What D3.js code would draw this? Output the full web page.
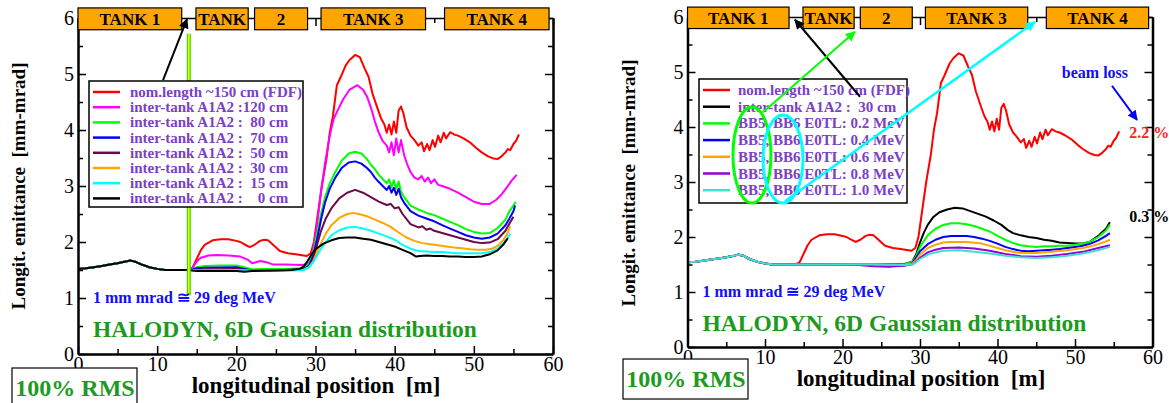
<!DOCTYPE html>
<html><head><meta charset="utf-8">
<script src="https://cdn.jsdelivr.net/npm/d3@7"></script>
<style>
body{margin:0;background:#fff}
svg{display:block}
</style>
</head><body><svg id="c" width="1169" height="403"></svg>
<script>
// ---------- data ----------
const xTicks = [0,10,20,30,40,50,60];
const yTicks = [0,1,2,3,4,5,6];
const tankLabels = ["TANK 1","TANK","2","TANK 3","TANK 4"];
const tankStart = [0,14.9,22.3,30.7,46.3];
const tankEnd = [13.1,21.5,29.0,43.9,59.5];

const leftCommon = [[0,1.52],[1,1.53],[2,1.55],[3,1.57],[4,1.6],[5,1.62],[6,1.65],[6.6,1.67],[7.2,1.65],[8,1.6],[9,1.55],[10,1.52],[11,1.5],[12,1.5],[13,1.5],[14,1.5]];
const rightCommon = [[0,1.54],[1,1.55],[2,1.57],[3,1.59],[4,1.61],[5,1.63],[6,1.66],[6.5,1.68],[7.2,1.66],[8,1.6],[9,1.55],[10,1.52],[11,1.5],[12,1.5],[13,1.5],[14,1.5]];

const redFDF = [[14.5,1.55],[15,1.7],[15.5,1.85],[16,1.95],[17,2.03],[18,2.05],[19,2.05],[20,2.02],[20.5,2.0],[21,1.96],[21.7,1.91],[22.3,1.95],[23,2.02],[23.5,2.04],[24,2.03],[24.5,1.97],[25.5,1.84],[26.5,1.8],[27.5,1.78],[28.9,1.75],[29.4,1.8],[29.8,2.0],[30.3,2.5],[30.8,3.0],[31.4,3.5],[31.8,3.95],[32.2,4.25],[32.7,4.8],[33.2,4.95],[33.8,5.15],[34.3,5.25],[35.0,5.34],[35.6,5.3],[36.2,5.1],[36.7,4.95],[37.2,4.65],[37.8,4.4],[38.3,4.2],[38.7,4.1],[39.0,3.95],[39.3,4.1],[39.6,3.92],[39.9,4.15],[40.2,3.95],[40.5,4.35],[40.8,4.42],[41.1,4.3],[41.5,4.05],[42,3.9],[42.5,3.82],[43,3.72],[43.4,3.78],[43.7,3.62],[44.1,3.75],[44.4,3.64],[44.8,3.82],[45.1,3.7],[45.5,3.9],[45.8,3.78],[46.2,3.95],[46.5,3.85],[47,3.96],[47.5,3.92],[48,3.9],[48.7,3.85],[49.5,3.78],[50.3,3.68],[51,3.6],[51.8,3.53],[52.5,3.49],[53,3.48],[53.5,3.53],[54,3.6],[54.3,3.66],[54.6,3.64],[55,3.75],[55.3,3.8],[55.7,3.92]];

const it120 = [[14.5,1.55],[15,1.65],[15.5,1.72],[16.5,1.76],[17.5,1.77],[19,1.76],[20.5,1.74],[21.5,1.68],[22,1.62],[23,1.66],[23.8,1.64],[24.6,1.6],[26,1.6],[28.4,1.59],[29.2,1.62],[29.7,1.85],[30.2,2.3],[30.7,2.9],[31.2,3.4],[31.8,3.9],[32.3,4.2],[32.8,4.35],[33.5,4.55],[34.3,4.72],[35.3,4.8],[36,4.72],[36.5,4.6],[37,4.4],[37.5,4.15],[38,3.95],[38.5,3.8],[39,3.72],[39.3,3.6],[39.6,3.78],[39.9,3.55],[40.2,3.85],[40.5,3.6],[40.8,3.82],[41.2,3.55],[41.6,3.38],[42,3.25],[42.5,3.15],[43,3.12],[43.4,3.18],[43.8,3.08],[44.2,3.15],[44.6,3.05],[45,3.12],[45.5,3.02],[46,3.0],[47,2.95],[48,2.88],[49,2.8],[50,2.72],[51,2.68],[52,2.68],[52.8,2.75],[53.5,2.85],[54.2,2.98],[54.8,3.1],[55.4,3.2]];

const it80 = [[14.5,1.52],[15,1.55],[16,1.57],[18,1.58],[20,1.58],[21,1.55],[22,1.51],[24,1.52],[26,1.52],[28.5,1.53],[29.2,1.6],[29.7,1.8],[30.2,2.15],[30.7,2.5],[31.2,2.8],[31.8,3.05],[32.5,3.25],[33.3,3.45],[34.2,3.58],[35,3.61],[35.8,3.58],[36.5,3.48],[37,3.38],[37.5,3.3],[38,3.2],[38.5,3.12],[39,3.05],[39.3,3.12],[39.6,2.98],[39.9,3.1],[40.2,2.95],[40.5,3.08],[40.8,2.9],[41.2,2.8],[42,2.65],[43,2.58],[43.5,2.55],[44,2.52],[44.5,2.5],[45,2.48],[46,2.42],[47,2.36],[48,2.3],[49,2.23],[50,2.18],[51,2.15],[52,2.16],[53,2.25],[54,2.4],[54.5,2.55],[55,2.65],[55.3,2.72]];

const it70 = [[14.5,1.51],[15,1.53],[16,1.54],[20,1.55],[21,1.52],[22,1.49],[26,1.5],[28.5,1.51],[29.2,1.58],[29.7,1.75],[30.2,2.05],[30.7,2.4],[31.2,2.7],[31.8,2.95],[32.5,3.15],[33.3,3.32],[34.2,3.42],[35,3.44],[35.8,3.4],[36.5,3.32],[37,3.25],[37.5,3.15],[38,3.07],[38.5,3.0],[39,2.93],[39.3,3.0],[39.6,2.88],[39.9,2.97],[40.2,2.84],[40.5,2.95],[40.8,2.8],[41.2,2.7],[42,2.55],[43,2.47],[44,2.42],[45,2.37],[46,2.3],[47,2.24],[48,2.18],[49,2.12],[50,2.08],[51,2.06],[52,2.08],[53,2.15],[54,2.3],[54.5,2.42],[55,2.55],[55.2,2.65]];

const it50 = [[14.5,1.5],[16,1.51],[20,1.52],[22,1.49],[26,1.5],[28.5,1.51],[29.2,1.56],[29.7,1.7],[30.2,1.95],[30.7,2.2],[31.3,2.42],[32,2.6],[33,2.78],[34,2.88],[35,2.93],[36,2.88],[37,2.8],[38,2.72],[39,2.66],[39.5,2.68],[40,2.6],[40.5,2.62],[41,2.5],[42,2.32],[43,2.26],[43.5,2.28],[44,2.22],[44.5,2.24],[45,2.2],[46,2.16],[47,2.12],[48,2.08],[49,2.04],[50,2.0],[51,1.98],[52,1.99],[53,2.05],[54,2.2],[54.5,2.33],[55,2.45]];

const it30 = [[14.5,1.49],[16,1.49],[20,1.5],[22,1.49],[26,1.49],[28.5,1.5],[29.2,1.55],[29.7,1.65],[30.2,1.82],[30.7,1.98],[31.3,2.15],[32,2.3],[33,2.43],[34,2.5],[34.8,2.52],[35.5,2.5],[36.5,2.46],[37.5,2.4],[38.5,2.34],[39.5,2.27],[40.5,2.17],[41.5,2.08],[42.5,2.02],[43.5,1.98],[44.5,1.96],[45.5,1.94],[46.5,1.92],[47.5,1.9],[48.5,1.89],[49.5,1.87],[50.5,1.86],[51.5,1.86],[52.3,1.88],[53,1.93],[53.7,2.03],[54.2,2.14],[54.6,2.28]];

const it15 = [[14.5,1.49],[16,1.49],[20,1.49],[22,1.48],[26,1.49],[28.5,1.5],[29.2,1.55],[29.7,1.64],[30.2,1.76],[30.7,1.88],[31.3,2.0],[32,2.12],[33,2.21],[34,2.26],[35,2.27],[36,2.24],[37,2.2],[38,2.15],[39,2.1],[40,2.04],[41,1.95],[42,1.88],[43,1.84],[44,1.83],[45,1.82],[46,1.82],[47,1.81],[48,1.8],[49,1.8],[50,1.8],[51,1.8],[52,1.82],[53,1.88],[53.7,1.98],[54.2,2.06],[54.6,2.15]];

const it0 = [[15,1.48],[16,1.48],[20,1.48],[21,1.47],[22,1.48],[25,1.49],[27,1.5],[28,1.52],[28.5,1.56],[29,1.66],[29.5,1.78],[30,1.87],[31,1.97],[32,2.03],[33,2.07],[34,2.08],[35,2.08],[36,2.06],[37,2.04],[38,2.0],[39,1.96],[40,1.92],[41,1.86],[42,1.8],[42.7,1.74],[43.2,1.75],[44,1.76],[45,1.75],[46,1.75],[47,1.74],[48,1.74],[49,1.73],[50,1.73],[51,1.74],[52,1.78],[53,1.85],[53.7,1.95],[54.3,2.07]];

const r30 = [[16,1.5],[20,1.5],[24,1.5],[28,1.51],[29,1.55],[29.5,1.68],[30,1.9],[30.5,2.08],[31,2.22],[31.7,2.36],[32.5,2.45],[33.5,2.5],[34.5,2.53],[35.5,2.52],[36.5,2.47],[37.5,2.42],[38.5,2.37],[39.5,2.3],[40.5,2.22],[41.3,2.13],[42,2.07],[43,2.03],[44,2.0],[45,1.98],[46,1.95],[47,1.93],[48,1.9],[49,1.89],[50,1.88],[51,1.88],[52,1.92],[53,2.02],[53.6,2.1],[54,2.15],[54.5,2.27]];
const e02 = [[16,1.5],[24,1.5],[28,1.5],[29,1.55],[29.5,1.65],[30,1.82],[31,2.03],[32,2.15],[33,2.22],[34,2.25],[35,2.25],[36,2.23],[37,2.2],[38,2.15],[39,2.1],[40,2.02],[41,1.95],[42,1.89],[43,1.85],[44,1.83],[45,1.82],[46,1.83],[47,1.83],[48,1.84],[49,1.84],[50,1.86],[51,1.88],[52,1.92],[53,2.0],[54,2.12],[54.5,2.22]];
const e04 = [[16,1.5],[24,1.49],[26,1.47],[28,1.48],[29,1.53],[29.5,1.62],[30,1.74],[31,1.87],[32,1.95],[33,2.0],[34,2.02],[36,2.02],[37,2.0],[38,1.97],[39,1.93],[40,1.88],[41,1.82],[42,1.78],[43,1.75],[44,1.74],[45,1.75],[46,1.76],[47,1.77],[48,1.78],[49,1.8],[50,1.82],[51,1.84],[52,1.88],[53,1.94],[54,2.02],[54.5,2.07]];
const e06 = [[16,1.5],[24,1.49],[28,1.49],[29,1.52],[29.5,1.58],[30,1.68],[31,1.8],[32,1.86],[33,1.9],[34,1.91],[36,1.91],[38,1.88],[40,1.8],[41,1.76],[42,1.73],[43,1.71],[45,1.71],[47,1.73],[49,1.76],[51,1.8],[52,1.83],[53,1.87],[54,1.92],[54.5,1.95]];
const e08 = [[16,1.5],[22,1.49],[24,1.47],[26,1.46],[28,1.48],[29,1.5],[29.5,1.55],[30,1.62],[31,1.72],[32,1.77],[33,1.8],[35,1.81],[37,1.79],[39,1.75],[41,1.69],[43,1.65],[45,1.64],[47,1.66],[49,1.69],[51,1.73],[53,1.8],[54.5,1.85]];
const e10 = [[16,1.5],[24,1.5],[28,1.49],[29,1.5],[29.5,1.54],[30,1.6],[31,1.68],[32,1.72],[33,1.75],[35,1.76],[37,1.73],[39,1.7],[41,1.66],[43,1.63],[45,1.62],[47,1.63],[49,1.66],[51,1.7],[53,1.76],[54.5,1.82]];

const leftNames = ["nom.length ~150 cm (FDF)","inter-tank A1A2 :120 cm","inter-tank A1A2 :  80 cm","inter-tank A1A2 :  70 cm","inter-tank A1A2 :  50 cm","inter-tank A1A2 :  30 cm","inter-tank A1A2 :  15 cm","inter-tank A1A2 :    0 cm"];
const leftColors = ["#ff0000","#ff00ff","#00ff00","#0000ff","#6a0a4a","#ffa500","#00ffff","#000000"];
const leftSeries = [redFDF,it120,it80,it70,it50,it30,it15,it0];

const rightNames = ["nom.length ~150 cm (FDF)","inter-tank A1A2 :  30 cm","BB5, BB6 E0TL: 0.2 MeV","BB5, BB6 E0TL: 0.4 MeV","BB5, BB6 E0TL: 0.6 MeV","BB5, BB6 E0TL: 0.8 MeV","BB5, BB6 E0TL: 1.0 MeV"];
const rightColors = ["#ff0000","#000000","#00ff00","#0000ff","#ffa500","#9400d3","#40e0d0"];
const rightSeries = [redFDF,r30,e02,e04,e06,e08,e10];

// ---------- drawing ----------
const svg = d3.select("#c");
const defs = svg.append("defs");
function marker(id,color){
  defs.append("marker").attr("id",id).attr("viewBox","0 0 10 10").attr("refX",9).attr("refY",5)
    .attr("markerWidth",12).attr("markerHeight",10).attr("markerUnits","userSpaceOnUse").attr("orient","auto")
    .append("path").attr("d","M0,0 L10,5 L0,10 z").attr("fill",color);
}
marker("mk","#000"); marker("mg","#00ff00"); marker("mc","#00ffff"); marker("mb","#0000ff");

const purple = "#7b3fc8", dgreen = "#1e9a1e";

function panel(o){
  const g = svg.append("g");
  const x = d3.scaleLinear().domain([0,60]).range(o.xr);
  const y = d3.scaleLinear().domain([0,6]).range(o.yr);
  const line = d3.line().x(d=>x(d[0])).y(d=>y(d[1]));

  o.series.forEach((s,i)=>{
    g.append("path").datum(o.common.concat(s)).attr("d",line)
      .attr("fill","none").attr("stroke",o.colors[i]).attr("stroke-width",2).attr("stroke-linejoin","round");
  });

  function style(sel,w){
    sel.select(".domain").attr("stroke","#000").attr("stroke-width",w);
    sel.selectAll(".tick line").attr("stroke","#000").attr("stroke-width",1.5);
    sel.selectAll("text").attr("font-size",20).attr("fill","#000");
  }
  const fmt = d3.format("d");
  const minorX = d3.range(5,60,10), minorY = d3.range(0.5,6,1);
  const H = o.yr[0], T = o.yr[1], L = o.xr[0], R = o.xr[1];
  g.append("g").attr("transform",`translate(0,${T})`).call(d3.axisTop(x).tickValues(xTicks).tickSize(-8).tickSizeOuter(0).tickFormat("")).call(style,1.5);
  g.append("g").attr("transform",`translate(0,${T})`).call(d3.axisTop(x).tickValues(minorX).tickSize(-5).tickSizeOuter(0).tickFormat("")).call(s=>{s.select(".domain").remove();style(s,1);});
  g.append("g").attr("transform",`translate(0,${H})`).call(d3.axisBottom(x).tickValues(xTicks).tickSize(-8).tickSizeOuter(0).tickPadding(3).tickFormat(fmt)).call(style,2.5);
  g.append("g").attr("transform",`translate(0,${H})`).call(d3.axisBottom(x).tickValues(minorX).tickSize(-5).tickSizeOuter(0).tickFormat("")).call(s=>{s.select(".domain").remove();style(s,1);});
  g.append("g").attr("transform",`translate(${L},0)`).call(d3.axisLeft(y).tickValues(yTicks).tickSize(-8).tickSizeOuter(0).tickPadding(4).tickFormat(fmt)).call(style,2.5);
  g.append("g").attr("transform",`translate(${L},0)`).call(d3.axisLeft(y).tickValues(minorY).tickSize(-5).tickSizeOuter(0).tickFormat("")).call(s=>{s.select(".domain").remove();style(s,1);});
  g.append("g").attr("transform",`translate(${R},0)`).call(d3.axisRight(y).tickValues(yTicks).tickSize(-8).tickSizeOuter(0).tickFormat("")).call(style,2.5);
  g.append("g").attr("transform",`translate(${R},0)`).call(d3.axisRight(y).tickValues(minorY).tickSize(-5).tickSizeOuter(0).tickFormat("")).call(s=>{s.select(".domain").remove();style(s,1);});

  tankLabels.forEach((t,i)=>{
    g.append("rect").attr("x",x(tankStart[i])).attr("y",y(6.18)).attr("width",x(tankEnd[i])-x(tankStart[i]))
      .attr("height",y(5.79)-y(6.18)).attr("fill","#ffa500").attr("stroke","#000").attr("stroke-width",1.2);
    g.append("text").attr("x",(x(tankStart[i])+x(tankEnd[i]))/2).attr("y",(y(6.18)+y(5.79))/2+6)
      .attr("text-anchor","middle").attr("font-size",17).attr("font-weight","bold").text(t);
  });

  if(o.marker){ o.marker(g,x,y); }

  const lb = o.legend;
  g.append("rect").attr("x",lb.x).attr("y",lb.y).attr("width",lb.w).attr("height",lb.h)
    .attr("fill","#fff").attr("stroke","#000").attr("stroke-width",1.5);
  o.names.forEach((n,i)=>{
    const cy = lb.y + lb.first + i*lb.step;
    g.append("line").attr("x1",lb.x+4).attr("x2",lb.x+31).attr("y1",cy).attr("y2",cy)
      .attr("stroke",o.colors[i]).attr("stroke-width",2.5);
    g.append("text").attr("x",lb.x+lb.tx).attr("y",cy+5).attr("font-size",lb.fs).attr("font-weight","bold")
      .attr("fill",purple).style("white-space","pre").text(n);
  });

  g.append("text").attr("transform",`translate(${o.ylab[0]},${o.ylab[1]}) rotate(-90)`)
    .attr("text-anchor","middle").attr("font-size",19).attr("font-weight","bold").style("white-space","pre")
    .text("Longit. emittance  [mm-mrad]");
  g.append("text").attr("x",o.xlab[0]).attr("y",o.xlab[1]).attr("text-anchor","middle").attr("font-size",23)
    .attr("font-weight","bold").style("white-space","pre").text("longitudinal position  [m]");
  g.append("text").attr("x",L+15).attr("y",o.convY).attr("font-size",16).attr("font-weight","bold").attr("fill","#1010f0")
    .text("1 mm mrad \u2245 29 deg MeV");
  g.append("text").attr("x",L+15).attr("y",o.haloY).attr("font-size",23.5).attr("font-weight","bold").attr("fill",dgreen)
    .text("HALODYN, 6D Gaussian distribution");
  g.append("rect").attr("x",o.rms[0]).attr("y",o.rms[1]).attr("width",125).attr("height",40)
    .attr("fill","#fff").attr("stroke","#000").attr("stroke-width",1.2);
  g.append("text").attr("x",o.rms[0]+63).attr("y",o.rms[1]+28).attr("text-anchor","middle").attr("font-size",24)
    .attr("font-weight","bold").attr("fill",dgreen).text("100% RMS");

  if(o.extra){ o.extra(g,x,y); }
}

function arrow(g,x,y,a,b,color,mk,w){
  g.append("line").attr("x1",x(a[0])).attr("y1",y(a[1])).attr("x2",x(b[0])).attr("y2",y(b[1]))
    .attr("stroke",color).attr("stroke-width",w||2).attr("marker-end",`url(#${mk})`);
}

panel({
  xr:[78,553], yr:[354,18], common:leftCommon, series:leftSeries, colors:leftColors, names:leftNames,
  legend:{x:89,y:81,w:214,h:126,first:11,step:15.2,tx:41,fs:15},
  ylab:[25,186], xlab:[316,393], convY:303, haloY:337, rms:[12,368],
  marker:(g,x,y)=>{
    g.append("line").attr("x1",x(14)).attr("x2",x(14)).attr("y1",y(1.05)).attr("y2",y(5.72)).attr("stroke","#33dd00").attr("stroke-width",4);
    g.append("line").attr("x1",x(14)).attr("x2",x(14)).attr("y1",y(1.05)).attr("y2",y(5.72)).attr("stroke","#ffff00").attr("stroke-width",1.5);
  },
  extra:(g,x,y)=>{ arrow(g,x,y,[10.74,4.89],[13.77,5.98],"#000","mk",2); }
});

panel({
  xr:[687.5,1152.5], yr:[347,17], common:rightCommon, series:rightSeries, colors:rightColors, names:rightNames,
  legend:{x:699,y:79,w:208,h:124,first:11,step:16.7,tx:39,fs:15},
  ylab:[635,183], xlab:[921,386], convY:297, haloY:331, rms:[623,359],
  extra:(g,x,y)=>{
    arrow(g,x,y,[22.26,4.55],[13.87,5.95],"#000","mk",2);
    arrow(g,x,y,[9.74,4.27],[21.61,5.73],"#00ff00","mg",2);
    g.append("ellipse").attr("cx",x(8.32)).attr("cy",y(3.49)).attr("rx",19).attr("ry",48).attr("fill","none").attr("stroke","#00ff00").attr("stroke-width",3);
    g.append("ellipse").attr("cx",x(12.32)).attr("cy",y(3.42)).attr("rx",20).attr("ry",44).attr("fill","none").attr("stroke","#00ffff").attr("stroke-width",3);
    arrow(g,x,y,[12.58,2.65],[44.84,5.91],"#00ffff","mc",2.5);
    g.append("text").attr("x",x(48.3)).attr("y",y(4.9)).attr("font-size",16).attr("font-weight","bold").attr("fill","#1010f0").text("beam loss");
    arrow(g,x,y,[54.77,4.75],[58.0,4.13],"#0000ff","mb",2);
    g.append("text").attr("x",x(57.0)).attr("y",y(3.8)).attr("font-size",16).attr("font-weight","bold").attr("fill","#ff2020").style("white-space","pre").text("2.2 %");
    g.append("text").attr("x",x(57.0)).attr("y",y(2.28)).attr("font-size",16).attr("font-weight","bold").attr("fill","#000").style("white-space","pre").text("0.3 %");
  }
});

svg.selectAll("text").style("font-family", '"Liberation Serif"');
</script>
</body></html>
